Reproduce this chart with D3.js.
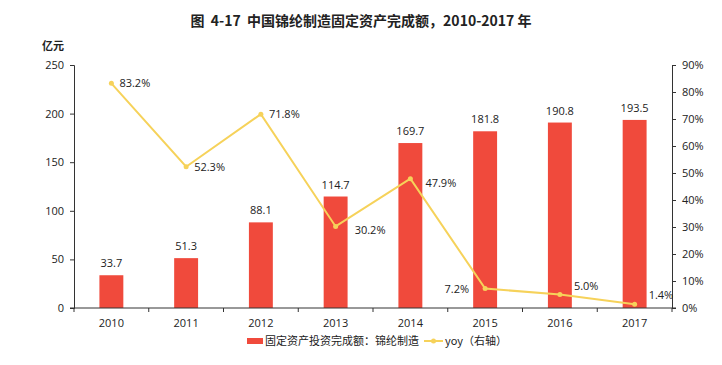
<!DOCTYPE html>
<html>
<head>
<meta charset="utf-8">
<script src="https://cdn.jsdelivr.net/npm/d3@7"></script>
<style>
  body { margin: 0; background: #fff; }
  text { font-family: "Open Sans", "Noto Sans CJK SC", sans-serif; fill: #222; }
</style>
</head>
<body>
<div id="chart"></div>
<script>
// Data
const years = ["2010", "2011", "2012", "2013", "2014", "2015", "2016", "2017"];
const investment = [33.7, 51.3, 88.1, 114.7, 169.7, 181.8, 190.8, 193.5];
const yoy = [83.2, 52.3, 71.8, 30.2, 47.9, 7.2, 5.0, 1.4];
// which side each yoy label sits on
const yoyLabelSide = ["r", "r", "r", "rb", "rf", "l", "ra", "ra"];

const width = 722;
const height = 365;
const margin = { top: 65, right: 50, bottom: 57, left: 74 };

const svg = d3.select("#chart")
  .append("svg")
  .attr("width", width)
  .attr("height", height);

const x = d3.scaleBand()
  .domain(years)
  .range([margin.left, width - margin.right])
  .paddingInner(0.68)
  .paddingOuter(0.34);

const yLeft = d3.scaleLinear()
  .domain([0, 250])
  .range([height - margin.bottom, margin.top]);

const yRight = d3.scaleLinear()
  .domain([0, 90])
  .range([height - margin.bottom, margin.top]);

// title
svg.append("text")
  .attr("x", width / 2)
  .attr("y", 26)
  .attr("text-anchor", "middle")
  .style("font-family", "'Noto Sans CJK SC', sans-serif")
  .style("font-weight", "bold")
  .style("font-size", "14px")
  .style("white-space", "pre")
  .text("图  4-17  中国锦纶制造固定资产完成额，2010-2017 年");

svg.append("text")
  .attr("x", 42)
  .attr("y", 50)
  .style("font-family", "'Noto Sans CJK SC', sans-serif")
  .style("font-weight", "bold")
  .style("font-size", "11px")
  .text("亿元");

// bars
svg.append("g")
  .selectAll("rect")
  .data(investment)
  .enter()
  .append("rect")
  .attr("x", (d, i) => x(years[i]))
  .attr("y", d => yLeft(d))
  .attr("width", x.bandwidth())
  .attr("height", d => yLeft(0) - yLeft(d))
  .attr("fill", "#f04a3c");

svg.append("g")
  .selectAll("text")
  .data(investment)
  .enter()
  .append("text")
  .attr("x", (d, i) => x(years[i]) + x.bandwidth() / 2)
  .attr("y", d => yLeft(d) - 8)
  .attr("text-anchor", "middle")
  .style("font-size", "11px")
  .text(d => d.toFixed(1));

// axes
const axisLeft = svg.append("g")
  .attr("transform", `translate(${margin.left},0)`)
  .call(d3.axisLeft(yLeft).tickValues(d3.range(0, 251, 50)).tickSize(4).tickPadding(6));

const axisRight = svg.append("g")
  .attr("transform", `translate(${width - margin.right},0)`)
  .call(d3.axisRight(yRight).tickValues(d3.range(0, 91, 10)).tickSize(4).tickPadding(6)
    .tickFormat(d => d + "%"));

const xb = d3.scaleLinear()
  .domain([0, years.length])
  .range([margin.left, width - margin.right]);

const axisBottom = svg.append("g")
  .attr("transform", `translate(0,${height - margin.bottom})`);
axisBottom.append("line")
  .attr("x1", margin.left - 4)
  .attr("x2", width - margin.right + 4)
  .attr("stroke", "#333");
axisBottom.selectAll(".tk")
  .data(d3.range(0, years.length + 1))
  .enter()
  .append("line")
  .attr("x1", d => xb(d))
  .attr("x2", d => xb(d))
  .attr("y2", 4)
  .attr("stroke", "#333");
axisBottom.selectAll(".lb")
  .data(years)
  .enter()
  .append("text")
  .attr("x", d => x(d) + x.bandwidth() / 2)
  .attr("y", 19)
  .attr("text-anchor", "middle")
  .style("font-size", "11px")
  .text(d => d);

[axisLeft, axisRight].forEach(a => {
  a.select(".domain").attr("stroke", "#333");
  a.selectAll(".tick line").attr("stroke", "#333");
  a.selectAll(".tick text")
    .style("font-size", "11px")
    .style("font-family", "'Open Sans', sans-serif")
    .attr("fill", "#222");
});

// yoy line
const line = d3.line()
  .x((d, i) => x(years[i]) + x.bandwidth() / 2)
  .y(d => yRight(d));

svg.append("path")
  .datum(yoy)
  .attr("d", line)
  .attr("fill", "none")
  .attr("stroke", "#f6d25a")
  .attr("stroke-width", 2);

svg.append("g")
  .selectAll("circle")
  .data(yoy)
  .enter()
  .append("circle")
  .attr("cx", (d, i) => x(years[i]) + x.bandwidth() / 2)
  .attr("cy", d => yRight(d))
  .attr("r", 2.5)
  .attr("fill", "#f6d25a");

// label offsets per placement
const offs = {
  r: [8, 4],
  rb: [19, 8],
  rf: [15, 8],
  l: [-16, 4],
  ra: [14, -5]
};

svg.append("g")
  .selectAll("text")
  .data(yoy)
  .enter()
  .append("text")
  .attr("x", (d, i) => x(years[i]) + x.bandwidth() / 2 + offs[yoyLabelSide[i]][0])
  .attr("y", (d, i) => yRight(d) + offs[yoyLabelSide[i]][1])
  .attr("text-anchor", (d, i) => yoyLabelSide[i] === "l" ? "end" : "start")
  .style("font-size", "11px")
  .text(d => d.toFixed(1) + "%");

// legend
const legend = svg.append("g").attr("transform", "translate(0,342)");
legend.append("rect")
  .attr("x", 247).attr("y", -4)
  .attr("width", 16).attr("height", 6)
  .attr("fill", "#f04a3c");
legend.append("text")
  .attr("x", 265).attr("y", 3)
  .style("font-family", "'Noto Sans CJK SC', sans-serif")
  .style("font-size", "11px")
  .text("固定资产投资完成额：锦纶制造");
legend.append("line")
  .attr("x1", 424).attr("x2", 443)
  .attr("y1", -1).attr("y2", -1)
  .attr("stroke", "#f6d25a").attr("stroke-width", 2);
legend.append("circle")
  .attr("cx", 433.5).attr("cy", -1).attr("r", 2.5)
  .attr("fill", "#f6d25a");
legend.append("text")
  .attr("x", 445).attr("y", 3)
  .style("font-family", "'Noto Sans CJK SC', sans-serif")
  .style("font-size", "11px")
  .text("yoy（右轴）");
</script>
</body>
</html>
